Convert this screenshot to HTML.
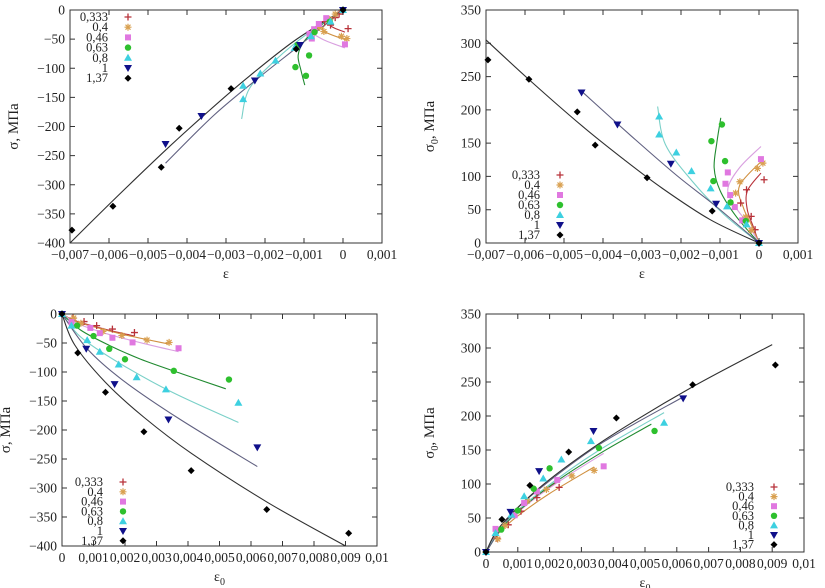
<!DOCTYPE html>
<html><head><meta charset="utf-8"><style>
body{margin:0;background:#fff}
svg{display:block;font-family:"Liberation Serif",serif}
</style></head><body>
<svg id="chart" width="825" height="588" viewBox="0 0 825 588"></svg>
<script>
// ---------- data ----------
const seriesNames = ["0,333","0,4","0,46","0,63","0,8","1","1,37"];
const seriesColors = ["#b8323a","#d9a050","#e078e0","#2ec02e","#3dd0e0","#10108a","#000000"];
const curveColors = ["#b8323a","#d09040","#d9a0e0","#208a30","#7ad0c8","#606080","#303030"];
const markerShapes = ["plus","star","square","circle","triangle","tridown","diamond"];
// measured points
const epsPts = [
 [0.00013,-0.00032,-0.00047,-0.0002,-0.0001,0],
 [0.0001,-0.00004,-0.00049,-0.0006,-0.00034,-0.0002,0],
 [0.00005,-0.0008,-0.00086,-0.00074,-0.00062,-0.00043,0],
 [-0.00095,-0.00122,-0.00087,-0.00117,-0.00073,-0.00034,0],
 [-0.00256,-0.00256,-0.00212,-0.00173,-0.00124,-0.00082,-0.00032,0],
 [-0.00455,-0.00363,-0.00226,-0.0011,0],
 [-0.00695,-0.0059,-0.00466,-0.0042,-0.00287,-0.0012,0]];
const eps0Pts = [
 [0.0023,0.0016,0.0011,0.0007,0.00035,0],
 [0.0034,0.0027,0.0019,0.0013,0.0006,0.00037,0],
 [0.0037,0.00224,0.0016,0.0012,0.0009,0.0003,0],
 [0.0053,0.00355,0.002,0.0015,0.001,0.00048,0],
 [0.0056,0.0033,0.00237,0.0018,0.0012,0.0008,0.0003,0],
 [0.0062,0.00338,0.00167,0.00077,0],
 [0.0091,0.0065,0.0041,0.0026,0.00138,0.0005,0]];
const sigPts = [
 [-32,-26,-20,-13,-7,0],
 [-49,-45,-37,-30,-16,-7,0],
 [-59,-49,-41,-33,-24,-14,0],
 [-113,-98,-78,-60,-38,-20,0],
 [-153,-130,-109,-87,-65,-45,-20,0],
 [-230,-182,-121,-60,0],
 [-378,-337,-270,-203,-135,-67,0]];
const sig0Pts = [
 [95,80,60,40,20,0],
 [120,112,92,75,39,19,0],
 [126,106,89,72,54,34,0],
 [178,153,123,93,61,33,0],
 [190,163,136,108,82,55,28,0],
 [226,178,119,59,0],
 [275,246,197,147,98,48,0]];
// model curves (knots)
const fitEps = [
 [0,-0.00015,-0.0003,-0.0003,0.00005],
 [0,-0.0002,-0.0004,-0.0005,0.0001],
 [0,-0.0003,-0.0006,-0.0008,-0.0005,0.00005],
 [0,-0.0006,-0.001,-0.00115,-0.00108,-0.00098],
 [0,-0.0009,-0.0017,-0.0024,-0.0026],
 [0,-0.0011,-0.0021,-0.0033,-0.00455],
 [0,-0.00125,-0.0025,-0.00352,-0.00454,-0.00585,-0.007]];
const fitEps0 = [
 [0,0.0003,0.0008,0.0015,0.0023],
 [0,0.0004,0.001,0.002,0.0034],
 [0,0.0004,0.0009,0.0016,0.0026,0.0037],
 [0,0.0006,0.0015,0.0025,0.0038,0.0052],
 [0,0.0006,0.0018,0.0035,0.0056],
 [0,0.0008,0.0019,0.0037,0.0062],
 [0,0.0004,0.0014,0.0026,0.0041,0.0065,0.009]];
const fitSig = [
 [0,-9,-18,-28,-38],
 [0,-12,-22,-36,-52],
 [0,-14,-25,-37,-51,-65],
 [0,-28,-54,-78,-103,-129],
 [0,-40,-84,-135,-187],
 [0,-60,-113,-180,-263],
 [0,-53,-119,-178,-240,-324,-400]];
const fitSig0 = [
 [0,25,50,78,105],
 [0,28,53,86,125],
 [0,30,54,81,113,145],
 [0,41,79,113,151,188],
 [0,43,92,148,205],
 [0,55,101,162,228],
 [0,35,83,128,176,243,305]];
const xTicksEps = [-0.007,-0.006,-0.005,-0.004,-0.003,-0.002,-0.001,0,0.001];
const xTicksEps0 = [0,0.001,0.002,0.003,0.004,0.005,0.006,0.007,0.008,0.009,0.01];
const yTicksSig = [0,-50,-100,-150,-200,-250,-300,-350,-400];
const yTicksSig0 = [0,50,100,150,200,250,300,350];

// ---------- drawing ----------
const NS="http://www.w3.org/2000/svg";
const svg=document.getElementById('chart');
function mk(tag,attrs,parent){const e=document.createElementNS(NS,tag);for(const k in attrs)e.setAttribute(k,attrs[k]);(parent||svg).appendChild(e);return e;}
function fmt(v){if(v===0)return "0";let s=(Math.round(Math.abs(v)*1e6)/1e6).toString().replace('.',',');return (v<0?"\u2212":"")+s;}

function marker(g,shape,x,y,c){
  let e;
  if(shape==="plus"){e=mk('path',{d:`M${x-3.5},${y}H${x+3.5}M${x},${y-3.5}V${y+3.5}`,stroke:c,'stroke-width':1.3},g);}
  else if(shape==="star"){e=mk('path',{d:`M${x-3.5},${y}H${x+3.5}M${x},${y-3.5}V${y+3.5}M${x-2.5},${y-2.5}L${x+2.5},${y+2.5}M${x-2.5},${y+2.5}L${x+2.5},${y-2.5}`,stroke:c,'stroke-width':1.2},g);}
  else if(shape==="square"){e=mk('rect',{x:x-3,y:y-3,width:6,height:6,fill:c},g);}
  else if(shape==="circle"){e=mk('circle',{cx:x,cy:y,r:3.2,fill:c},g);}
  else if(shape==="triangle"){e=mk('path',{d:`M${x},${y-4}L${x+4},${y+3}L${x-4},${y+3}Z`,fill:c},g);}
  else if(shape==="tridown"){e=mk('path',{d:`M${x},${y+4}L${x+4},${y-3}L${x-4},${y-3}Z`,fill:c},g);}
  else {e=mk('path',{d:`M${x},${y-3.5}L${x+3.5},${y}L${x},${y+3.5}L${x-3.5},${y}Z`,fill:c},g);}
  return e;
}
function smoothPath(pts){
  let d=`M${pts[0][0]},${pts[0][1]}`;
  for(let i=0;i<pts.length-1;i++){
    const p0=pts[Math.max(0,i-1)],p1=pts[i],p2=pts[i+1],p3=pts[Math.min(pts.length-1,i+2)];
    const c1=[p1[0]+(p2[0]-p0[0])/6,p1[1]+(p2[1]-p0[1])/6];
    const c2=[p2[0]-(p3[0]-p1[0])/6,p2[1]-(p3[1]-p1[1])/6];
    d+=`C${c1[0]},${c1[1]} ${c2[0]},${c2[1]} ${p2[0]},${p2[1]}`;
  }
  return d;
}

function panel(cfg){
  const g=mk('g',{});
  
  
  const sx=v=>cfg.L+(v-cfg.xmin)/(cfg.xmax-cfg.xmin)*(cfg.R-cfg.L);
  const sy=v=>cfg.B-(v-cfg.ymin)/(cfg.ymax-cfg.ymin)*(cfg.B-cfg.T);
  const frame=mk('rect',{x:cfg.L,y:cfg.T,width:cfg.R-cfg.L,height:cfg.B-cfg.T,fill:'none',stroke:'#333','stroke-width':1},g);
  
  
  cfg.xt.forEach(v=>{
    const x=sx(v);
    mk('path',{d:`M${x},${cfg.B}v-5M${x},${cfg.T}v5`,stroke:'#333'},g);
    const t=mk('text',{x:x,y:cfg.B+16,'text-anchor':'middle','font-size':13.5,fill:'#222'},g);
    t.textContent=fmt(v);
    
    
  });
  cfg.yt.forEach(v=>{
    const y=sy(v);
    mk('path',{d:`M${cfg.L},${y}h5M${cfg.R},${y}h-5`,stroke:'#333'},g);
    const t=mk('text',{x:cfg.L-5,y:y+4.5,'text-anchor':'end','font-size':13.5,fill:'#222'},g);
    t.textContent=fmt(v);
    
    
  });
  const xt=mk('text',{x:(cfg.L+cfg.R)/2,y:cfg.B+35,'text-anchor':'middle','font-size':14,fill:'#222'},g);
  xt.textContent="ε";
  if(cfg.xsub){const s=mk('tspan',{dy:4,'font-size':10},xt);s.textContent="0";}
  
  
  const yt=mk('text',{x:0,y:0,'text-anchor':'middle','font-size':15,fill:'#222',transform:`translate(${cfg.L-52},${(cfg.T+cfg.B)/2}) rotate(-90)`},g);
  yt.textContent="σ";
  if(cfg.ysub){const s=mk('tspan',{dy:4,'font-size':10},yt);s.textContent="0";const s2=mk('tspan',{dy:-4},yt);s2.textContent=", МПа";}
  else{const s2=mk('tspan',{},yt);s2.textContent=", МПа";}
  
  
  for(let i=0;i<seriesNames.length;i++){
    const fx=cfg.fx[i],fy=cfg.fy[i];
    const pts=fx.map((v,k)=>[sx(v),sy(fy[k])]);
    const p=mk('path',{d:smoothPath(pts),fill:'none',stroke:curveColors[i],'stroke-width':1.1},g);
    
    
  }
  for(let i=0;i<seriesNames.length;i++){
    const px=cfg.px[i],py=cfg.py[i];
    px.forEach((v,k)=>{
      const m=marker(g,markerShapes[i],sx(v),sy(py[k]),seriesColors[i]);
      
      
    });
  }
  const lg=mk('g',{},g);
  
  
  seriesNames.forEach((n,i)=>{
    const y=cfg.legY+i*cfg.legDy;
    const t=mk('text',{x:cfg.legX,y:y+4,'text-anchor':'end','font-size':12.5,fill:'#222'},lg);
    t.textContent=n;
    
    
    marker(lg,markerShapes[i],cfg.legX+20,y,seriesColors[i]);
  });
}

panel({name:'panel-sigma-vs-eps',L:70,R:382,T:10,B:243,xmin:-0.007,xmax:0.001,ymin:-400,ymax:0,xt:xTicksEps,yt:yTicksSig,
  px:epsPts,py:sigPts,fx:fitEps,fy:fitSig,legX:108,legY:17,legDy:10.2});
panel({name:'panel-sigma0-vs-eps',L:486,R:798,T:10,B:243,xmin:-0.007,xmax:0.001,ymin:0,ymax:350,xt:xTicksEps,yt:yTicksSig0,ysub:true,
  px:epsPts,py:sig0Pts,fx:fitEps,fy:fitSig0,legX:540,legY:175,legDy:10});
panel({name:'panel-sigma-vs-eps0',L:62,R:377,T:314,B:546,xmin:0,xmax:0.01,ymin:-400,ymax:0,xt:xTicksEps0,yt:yTicksSig,xsub:true,
  px:eps0Pts,py:sigPts,fx:fitEps0,fy:fitSig,legX:103,legY:482,legDy:9.8});
panel({name:'panel-sigma0-vs-eps0',L:486,R:804,T:314,B:552,xmin:0,xmax:0.01,ymin:0,ymax:350,xt:xTicksEps0,yt:yTicksSig0,xsub:true,ysub:true,
  px:eps0Pts,py:sig0Pts,fx:fitEps0,fy:fitSig0,legX:754,legY:487,legDy:9.6});
</script>
</body></html>
